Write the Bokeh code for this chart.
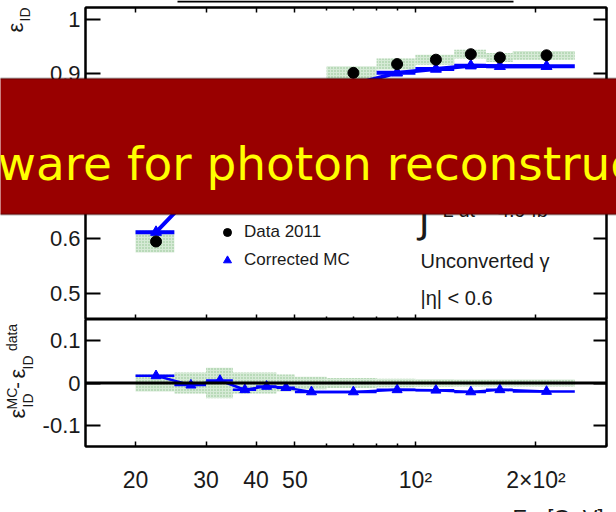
import numpy as np
from bokeh.plotting import figure
from bokeh.layouts import column
from bokeh.models import (Range1d, LogAxis, LinearAxis, FixedTicker, Span, Label,
                          BoxAnnotation, Legend, LegendItem, ColumnDataSource)
from bokeh.embed import file_html
from bokeh.resources import INLINE

# Photon transverse-energy bins [GeV]
bin_lo = [20, 25, 30, 35, 40, 45, 50, 60, 80, 100, 125, 150, 175]
bin_hi = [25, 30, 35, 40, 45, 50, 60, 80, 100, 125, 150, 175, 250]
bin_center = [22.5, 27.5, 32.5, 37.5, 42.5, 47.5, 55, 70, 90, 112.5, 137.5, 162.5, 212.5]

# Identification efficiency: data 2011 and corrected MC
eff_data = [0.595, 0.683, 0.742, 0.790, 0.822, 0.845, 0.870, 0.902, 0.918, 0.926, 0.936, 0.930, 0.934]
eff_mc = [0.612, 0.678, 0.748, 0.774, 0.814, 0.834, 0.849, 0.881, 0.902, 0.909, 0.915, 0.914, 0.914]
# total uncertainty on the data efficiency (band)
eff_unc = [0.020, 0.025, 0.036, 0.025, 0.025, 0.020, 0.015, 0.012, 0.010, 0.009, 0.008, 0.008, 0.008]

x_major = [20, 30, 40, 50, 100, 200]
x_minor = [60, 70, 80, 90, 300]
x_labels = {20: "20", 30: "30", 40: "40", 50: "50", 100: "10²", 200: "2×10²"}
y_top_ticks = [0.5, 0.6, 0.7, 0.8, 0.9, 1.0]
y_top_labels = {0.5: "0.5", 0.6: "0.6", 0.7: "0.7", 0.8: "0.8", 0.9: "0.9", 1.0: "1"}
y_bot_ticks = [-0.1, 0.0, 0.1]
y_bot_labels = {-0.1: "-0.1", 0: "0", 0.1: "0.1"}

FONT = "Liberation Sans"
BLUE = "#0000ff"
TXT = "#1a1a1a"
# dotted light-green uncertainty band
band_style = dict(fill_color="#d6ead6", hatch_pattern="dot", hatch_color="#8fc28f",
                  hatch_scale=3, hatch_weight=1, line_color=None)

diff = [m - d for m, d in zip(eff_mc, eff_data)]
src = ColumnDataSource(dict(
    lo=bin_lo, hi=bin_hi, x=bin_center,
    data=eff_data, mc=eff_mc,
    band_lo=[d - u for d, u in zip(eff_data, eff_unc)],
    band_hi=[d + u for d, u in zip(eff_data, eff_unc)],
    diff=diff,
    unc_lo=[-u for u in eff_unc], unc_hi=eff_unc,
))


def style_frame(p):
    p.grid.visible = False
    p.outline_line_color = "black"
    p.outline_line_width = 2
    p.background_fill_color = "white"
    p.border_fill_color = None


def x_axis(ax, labels):
    ax.ticker = FixedTicker(ticks=x_major, minor_ticks=x_minor)
    ax.axis_line_color = "black"
    ax.axis_line_width = 2
    ax.major_tick_in = 5
    ax.major_tick_out = 0
    ax.minor_tick_in = 3
    ax.minor_tick_out = 0
    ax.major_tick_line_color = "black"
    ax.minor_tick_line_color = "black"
    ax.major_tick_line_width = 1.5
    ax.minor_tick_line_width = 1.5
    if labels:
        ax.major_label_overrides = x_labels
        ax.major_label_text_font = FONT
        ax.major_label_text_font_size = "23px"
        ax.major_label_text_color = TXT
        ax.major_label_standoff = 20
    else:
        ax.major_label_text_font_size = "0px"
        ax.major_label_standoff = 0
        ax.major_label_overrides = {t: "" for t in x_major}


def y_axis(ax, ticks, labels, tick_len):
    ax.ticker = FixedTicker(ticks=ticks, minor_ticks=[])
    ax.axis_line_color = "black"
    ax.axis_line_width = 2
    ax.major_tick_in = tick_len
    ax.major_tick_out = 0
    ax.minor_tick_line_color = None
    ax.major_tick_line_color = "black"
    ax.major_tick_line_width = 2
    if labels is not None:
        ax.major_label_overrides = labels
        ax.major_label_text_font = FONT
        ax.major_label_text_font_size = "22px"
        ax.major_label_text_color = TXT
        ax.major_label_standoff = 5
    else:
        ax.major_label_text_font_size = "0px"
        ax.major_label_standoff = 0
        ax.major_label_overrides = {t: "" for t in ticks}


# ---------------- upper panel: efficiency ----------------
p1 = figure(width=616, height=319, x_axis_type="log",
            x_range=Range1d(15, 300), y_range=Range1d(0.453, 1.021),
            min_border_left=85, min_border_right=10, min_border_top=7, min_border_bottom=0,
            output_backend="svg", toolbar_location=None)
style_frame(p1)
x_axis(p1.xaxis[0], False)
y_axis(p1.yaxis[0], y_top_ticks, y_top_labels, 15)
top_ax = LogAxis()
x_axis(top_ax, False)
p1.add_layout(top_ax, "above")
right_ax = LinearAxis()
y_axis(right_ax, y_top_ticks, None, 13)
p1.add_layout(right_ax, "right")

p1.quad(left="lo", right="hi", bottom="band_lo", top="band_hi", source=src, **band_style)
p1.segment(x0="lo", x1="hi", y0="mc", y1="mc", source=src, line_color=BLUE, line_width=4)
p1.line("x", "mc", source=src, line_color=BLUE, line_width=4)
r_mc = p1.scatter("x", "mc", source=src, marker="triangle", size=11,
                  fill_color=BLUE, line_color=BLUE)
r_data = p1.scatter("x", "data", source=src, marker="circle", size=11,
                    fill_color="black", line_color="black")

legend = Legend(items=[LegendItem(label="Data 2011", renderers=[r_data]),
                       LegendItem(label="Corrected MC", renderers=[r_mc])],
                location=(132, 45), orientation="vertical",
                border_line_color=None, background_fill_alpha=0,
                padding=0, margin=0, spacing=0,
                glyph_width=20, glyph_height=28, label_height=28, label_standoff=7,
                label_text_font=FONT, label_text_font_size="17px",
                label_text_color=TXT)
p1.add_layout(legend)

# Texts on the right of the upper panel (frame-relative pixels)
txt_kw = dict(x_units="screen", y_units="screen", text_font=FONT, text_color=TXT)
p1.add_layout(Label(x=333, y=80, text="∫", text_font_size="40px", **txt_kw))
p1.add_layout(Label(x=357, y=99, text="L dt = 4.9 fb⁻¹", text_font_size="20px", **txt_kw))
p1.add_layout(Label(x=335, y=59, text="Unconverted γ", text_font_size="20px",
                    text_baseline="middle", **txt_kw))
p1.add_layout(Label(x=335, y=22, text="|η| < 0.6", text_font_size="20px",
                    text_baseline="middle", **txt_kw))

# ---------------- lower panel: MC - data ----------------
p2 = figure(width=616, height=193, x_axis_type="log",
            x_range=p1.x_range, y_range=Range1d(-0.15, 0.15),
            min_border_left=85, min_border_right=10, min_border_top=0, min_border_bottom=66,
            output_backend="svg", toolbar_location=None)
style_frame(p2)
x_axis(p2.xaxis[0], True)
y_axis(p2.yaxis[0], y_bot_ticks, y_bot_labels, 15)
right_ax2 = LinearAxis()
y_axis(right_ax2, y_bot_ticks, None, 13)
p2.add_layout(right_ax2, "right")

p2.quad(left="lo", right="hi", bottom="unc_lo", top="unc_hi", source=src, **band_style)
p2.add_layout(Span(location=0, dimension="width", line_color="black", line_width=3))
p2.segment(x0="lo", x1="hi", y0="diff", y1="diff", source=src, line_color=BLUE, line_width=2.5)
p2.line("x", "diff", source=src, line_color=BLUE, line_width=2.5)
p2.scatter("x", "diff", source=src, marker="triangle", size=10,
           fill_color=BLUE, line_color=BLUE)

# ---------------- page overlay: axis titles, rule and slide banner ----------------
# A transparent full-page canvas (pixel coordinates, origin bottom-left) laid over both panels.
ov = figure(width=616, height=512, x_range=Range1d(0, 616), y_range=Range1d(0, 512),
            min_border=0, x_axis_location=None, y_axis_location=None,
            output_backend="svg", toolbar_location=None,
            background_fill_color=None, border_fill_color=None, outline_line_color=None,
            frame_align=False,
            styles={"position": "absolute", "top": "0px", "left": "0px", "z-index": "10"})
ov.grid.visible = False

okw = dict(text_font=FONT, text_color=TXT)
rot = dict(angle=np.pi / 2, text_align="center", text_baseline="middle")

# y title, upper panel: ε_ID
ov.add_layout(Label(x=15, y=485, text="ε", text_font_size="22px", **rot, **okw))
ov.add_layout(Label(x=24, y=498, text="ID", text_font_size="14px", **rot, **okw))

# y title, lower panel: ε_ID^MC - ε_ID^data
ov.add_layout(Label(x=17, y=99, text="ε", text_font_size="22px", **rot, **okw))
ov.add_layout(Label(x=27, y=112, text="ID", text_font_size="14px", **rot, **okw))
ov.add_layout(Label(x=11, y=114, text="MC", text_font_size="14px", **rot, **okw))
ov.add_layout(Label(x=16, y=127, text="-", text_font_size="20px", **rot, **okw))
ov.add_layout(Label(x=17, y=139, text="ε", text_font_size="22px", **rot, **okw))
ov.add_layout(Label(x=27, y=150, text="ID", text_font_size="14px", **rot, **okw))
ov.add_layout(Label(x=11, y=175, text="data", text_font_size="14px", **rot, **okw))

# x title: E_γ [GeV]
ov.add_layout(Label(x=603, y=7.5, text="[GeV]", text_align="right", text_baseline="top",
                    text_font_size="22px", **okw))
ov.add_layout(Label(x=512, y=7.5, text="E", text_align="left", text_baseline="top",
                    text_font_size="22px", **okw))
ov.add_layout(Label(x=527, y=0.5, text="γ", text_align="left", text_baseline="top",
                    text_font_size="14px", **okw))

# thin rule at the very top
ov.add_layout(BoxAnnotation(left=177, right=513, top=512, bottom=510,
                            fill_color="black", fill_alpha=1, line_color=None))

# slide banner
ov.add_layout(BoxAnnotation(left=-5, right=621, top=434, bottom=298,
                            fill_color="#990000", fill_alpha=1,
                            line_color="black", line_width=2))
ban_kw = dict(text_font="DejaVu Sans", text_font_size="47px", text_color="#ffff00")
ov.add_layout(Label(x=-3, y=322, text="Soft", text_align="right", **ban_kw))
ov.add_layout(Label(x=-3, y=322, text="ware for photon reconstruction", text_align="left", **ban_kw))

layout = column(p1, p2, ov, spacing=0)
open("out.html", "w").write(file_html(layout, INLINE))
